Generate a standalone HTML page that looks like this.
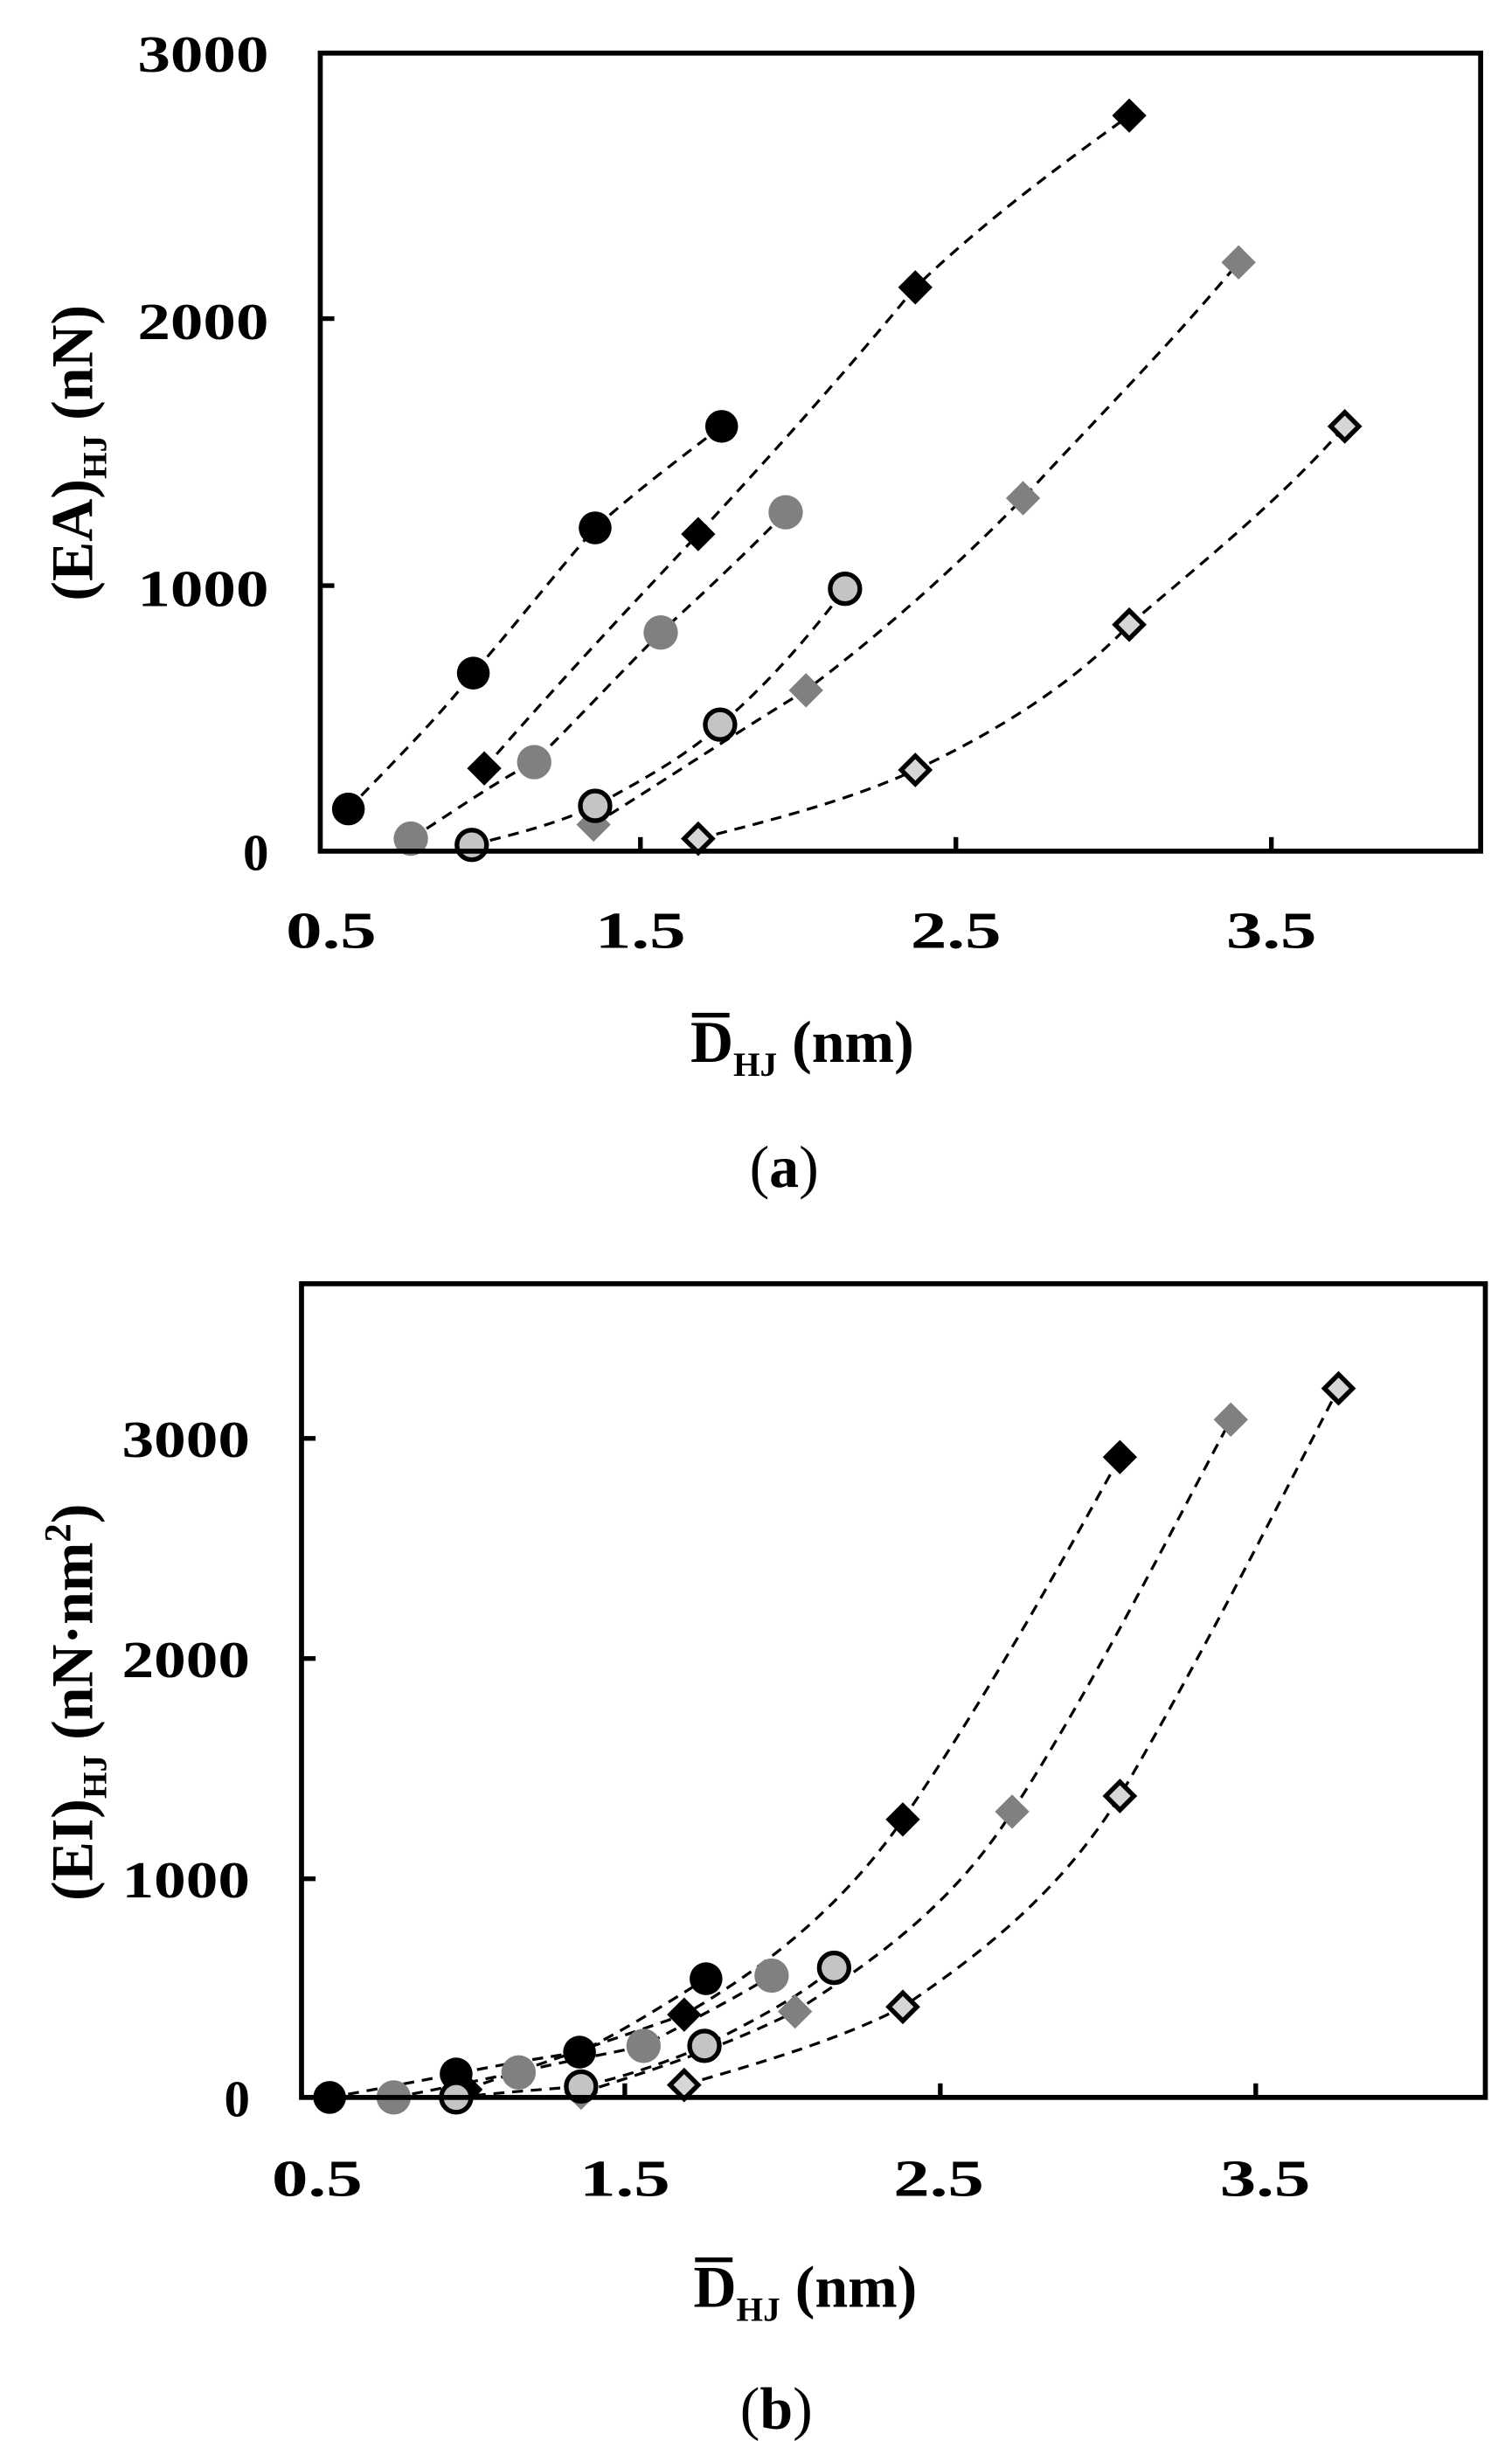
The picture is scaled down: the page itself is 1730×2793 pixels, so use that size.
<!DOCTYPE html>
<html><head><meta charset="utf-8"><style>html,body{margin:0;padding:0;background:#fff}svg{display:block}</style></head>
<body>
<svg width="1730" height="2793" viewBox="0 0 968 1563" xmlns="http://www.w3.org/2000/svg" font-family="'Liberation Serif',serif">
<defs>
<g id="cb"><circle r="10.5" fill="#000"/></g>
<g id="cg"><circle r="11" fill="#808080"/></g>
<g id="cl"><circle r="9.5" fill="#c4c4c4" stroke="#000" stroke-width="3"/></g>
<g id="db"><path d="M0,-11 L11,0 L0,11 L-11,0Z" fill="#000"/></g>
<g id="dg"><path d="M0,-11 L11,0 L0,11 L-11,0Z" fill="#808080"/></g>
<g id="dw"><path d="M0,-9 L9,0 L0,9 L-9,0Z" fill="#d6d6d6" stroke="#000" stroke-width="3"/></g>
</defs>
<rect width="968" height="1563" fill="#fff"/>

<!-- Plot a -->
<g fill="none" stroke="#000" stroke-width="1.8" stroke-dasharray="7,5">
<path d="M223,518 C250,490 280,460 303,431 C330,400 355,368 381,338 C410,312 440,290 462,273"/>
<path d="M310,492 C355,440 400,392 447,342 C495,290 540,240 586,184 C632,140 680,105 723,74"/>
<path d="M263,537 C290,520 318,500 342,488 C370,460 398,430 423,405 C450,380 480,352 503,328"/>
<path d="M302,541 C330,534 355,528 381,516 C410,500 440,484 461,464 C490,440 520,405 541,377"/>
<path d="M380,528 C425,500 470,470 516,442 C565,405 610,365 655,319 C700,270 750,220 793,168"/>
<path d="M447,537 C495,525 545,512 586,493 C635,470 685,440 723,400 C770,360 820,320 861,273"/>
</g>
<use href="#cb" x="223" y="518"/><use href="#cb" x="303" y="431"/><use href="#cb" x="381" y="338"/><use href="#cb" x="462" y="273"/>
<use href="#db" x="310" y="492"/><use href="#db" x="447" y="342"/><use href="#db" x="586" y="184"/><use href="#db" x="723" y="74"/>
<use href="#cg" x="263" y="537"/><use href="#cg" x="342" y="488"/><use href="#cg" x="423" y="405"/><use href="#cg" x="503" y="328"/>
<use href="#dg" x="380" y="528"/><use href="#dg" x="516" y="442"/><use href="#dg" x="655" y="319"/><use href="#dg" x="793" y="168"/>
<use href="#cl" x="302" y="541"/><use href="#cl" x="381" y="516"/><use href="#cl" x="461" y="464"/><use href="#cl" x="541" y="377"/>
<use href="#dw" x="447" y="537"/><use href="#dw" x="586" y="493"/><use href="#dw" x="723" y="400"/><use href="#dw" x="861" y="273"/>
<rect x="205" y="34" width="743" height="511" fill="none" stroke="#000" stroke-width="3.2"/>
<g stroke="#000" stroke-width="3"><line x1="410" y1="545" x2="410" y2="536"/><line x1="612" y1="545" x2="612" y2="536"/><line x1="814" y1="545" x2="814" y2="536"/>
<line x1="205" y1="204" x2="214" y2="204"/><line x1="205" y1="375" x2="214" y2="375"/></g>
<g font-size="33" font-weight="bold" text-anchor="end">
<text x="172" y="46" textLength="84" lengthAdjust="spacingAndGlyphs">3000</text><text x="172" y="217" textLength="84" lengthAdjust="spacingAndGlyphs">2000</text><text x="172" y="388" textLength="84" lengthAdjust="spacingAndGlyphs">1000</text><text x="172" y="557">0</text></g>
<g font-size="33" font-weight="bold" text-anchor="middle">
<text x="212" y="607" textLength="58" lengthAdjust="spacingAndGlyphs">0.5</text><text x="410" y="607" textLength="58" lengthAdjust="spacingAndGlyphs">1.5</text><text x="612" y="607" textLength="58" lengthAdjust="spacingAndGlyphs">2.5</text><text x="814" y="607" textLength="58" lengthAdjust="spacingAndGlyphs">3.5</text></g>
<text transform="translate(59,290) rotate(-90)" font-size="38" font-weight="bold" text-anchor="middle">(EA)<tspan font-size="22" dy="9">HJ</tspan><tspan dy="-9"> (nN)</tspan></text>
<text x="442" y="680" font-size="38" font-weight="bold">D<tspan font-size="22" dy="9">HJ</tspan><tspan dy="-9"> (nm)</tspan></text>
<line x1="443" y1="650" x2="467" y2="650" stroke="#000" stroke-width="3"/>
<text x="502" y="760" font-size="38" text-anchor="middle">(<tspan font-weight="bold">a</tspan>)</text>

<!-- Plot b -->
<g fill="none" stroke="#000" stroke-width="1.8" stroke-dasharray="7,5">
<path d="M211,1343 C240,1338 265,1333 292,1328 C320,1322 345,1318 371,1314 C400,1300 428,1282 452,1267"/>
<path d="M298,1338 C350,1320 395,1305 438,1290 C490,1260 540,1220 578,1165 C630,1090 680,1000 717,933"/>
<path d="M252,1343 C280,1338 305,1332 332,1327 C360,1320 385,1316 412,1310 C440,1295 470,1280 494,1265"/>
<path d="M292,1343 C320,1340 345,1338 372,1336 C400,1330 428,1320 451,1310 C480,1295 510,1280 534,1260"/>
<path d="M372,1340 C420,1325 465,1310 509,1288 C560,1255 610,1220 648,1160 C700,1080 750,980 788,909"/>
<path d="M438,1335 C490,1320 540,1305 578,1285 C630,1250 680,1210 717,1150 C770,1060 820,960 857,889"/>
</g>
<use href="#db" x="298" y="1338"/>
<use href="#cb" x="211" y="1343"/><use href="#cb" x="292" y="1328"/><use href="#cb" x="371" y="1314"/><use href="#cb" x="452" y="1267"/>
<use href="#db" x="438" y="1290"/><use href="#db" x="578" y="1165"/><use href="#db" x="717" y="933"/>
<use href="#cg" x="252" y="1343"/><use href="#cg" x="332" y="1327"/><use href="#cg" x="412" y="1310"/><use href="#cg" x="494" y="1265"/>
<use href="#dg" x="372" y="1340"/><use href="#dg" x="509" y="1288"/><use href="#dg" x="648" y="1160"/><use href="#dg" x="788" y="909"/>
<use href="#cl" x="292" y="1343"/><use href="#cl" x="372" y="1336"/><use href="#cl" x="451" y="1310"/><use href="#cl" x="534" y="1260"/>
<use href="#dw" x="438" y="1335"/><use href="#dw" x="578" y="1285"/><use href="#dw" x="717" y="1150"/><use href="#dw" x="857" y="889"/>
<rect x="193" y="822" width="758" height="521" fill="none" stroke="#000" stroke-width="3.2"/>
<g stroke="#000" stroke-width="3"><line x1="400" y1="1343" x2="400" y2="1334"/><line x1="602" y1="1343" x2="602" y2="1334"/><line x1="804" y1="1343" x2="804" y2="1334"/>
<line x1="193" y1="921" x2="202" y2="921"/><line x1="193" y1="1062" x2="202" y2="1062"/><line x1="193" y1="1203" x2="202" y2="1203"/></g>
<g font-size="33" font-weight="bold" text-anchor="end">
<text x="160" y="933" textLength="82" lengthAdjust="spacingAndGlyphs">3000</text><text x="160" y="1074" textLength="82" lengthAdjust="spacingAndGlyphs">2000</text><text x="160" y="1215" textLength="82" lengthAdjust="spacingAndGlyphs">1000</text><text x="160" y="1355">0</text></g>
<g font-size="33" font-weight="bold" text-anchor="middle">
<text x="203" y="1406" textLength="58" lengthAdjust="spacingAndGlyphs">0.5</text><text x="400" y="1406" textLength="58" lengthAdjust="spacingAndGlyphs">1.5</text><text x="601" y="1406" textLength="58" lengthAdjust="spacingAndGlyphs">2.5</text><text x="810" y="1406" textLength="58" lengthAdjust="spacingAndGlyphs">3.5</text></g>
<text transform="translate(59,1090) rotate(-90)" font-size="38" font-weight="bold" text-anchor="middle">(EI)<tspan font-size="22" dy="9">HJ</tspan><tspan dy="-9"> (nN·nm</tspan><tspan font-size="24" dy="-14">2</tspan><tspan dy="14">)</tspan></text>
<text x="444" y="1477" font-size="38" font-weight="bold">D<tspan font-size="22" dy="9">HJ</tspan><tspan dy="-9"> (nm)</tspan></text>
<line x1="445" y1="1447" x2="469" y2="1447" stroke="#000" stroke-width="3"/>
<text x="497" y="1555" font-size="38" text-anchor="middle">(<tspan font-weight="bold">b</tspan>)</text>
</svg>
</body></html>
